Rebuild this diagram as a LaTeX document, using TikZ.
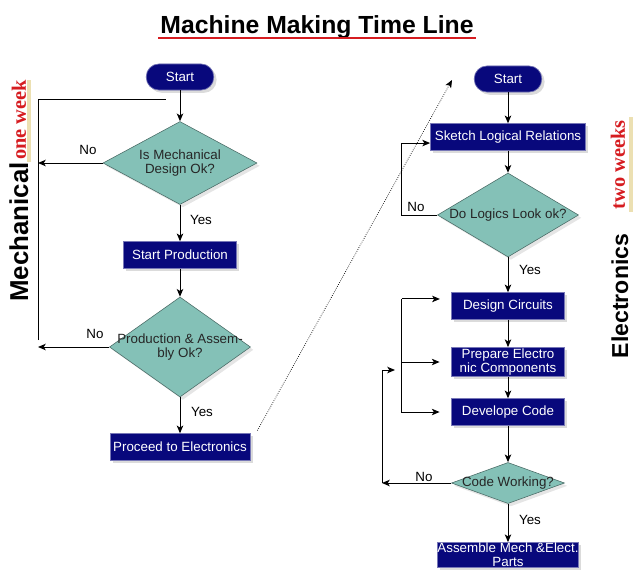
\documentclass[tikz,border=0pt]{standalone}
\usepackage{fontspec}
\setmainfont{Liberation Sans}
\newfontfamily\weekfont{Liberation Serif}
\usepackage{xcolor}
\usepackage{tikz}
\usetikzlibrary{positioning,arrows,arrows.meta}
\usetikzlibrary{shapes,shadows}
\definecolor{flownavy}{RGB}{8,8,124}
\definecolor{flowteal}{RGB}{132,193,183}
\definecolor{weekred}{RGB}{214,28,32}
\definecolor{weekbar}{RGB}{236,224,178}
\tikzset{
terminal/.style={rectangle, rounded corners=9pt, fill=flownavy, draw=flownavy!60!white, line width=0.5pt, text=white, minimum width=48pt, minimum height=18.5pt, inner sep=1pt, drop shadow={shadow xshift=2pt, shadow yshift=-2pt, fill=black!28}},
process/.style={rectangle, fill=flownavy, draw=flownavy!55!white, line width=0.5pt, text=white, align=center, minimum width=80.4pt, minimum height=19pt, inner sep=1pt, drop shadow={shadow xshift=2pt, shadow yshift=-2pt, fill=black!28}},
decision/.style={diamond, fill=flowteal, draw=flowteal!55!black, line width=0.4pt, inner sep=0pt, drop shadow={shadow xshift=2pt, shadow yshift=-2pt, fill=black!20}},
query/.style={align=center, text=black!85},
answer/.style={text=black},
week/.style={rotate=90, text=weekred, font=\weekfont\bfseries\fontsize{14.5}{15}\selectfont}
}

\begin{document}
\begin{tikzpicture}[x=0.025cm, y=-0.025cm, line width=0.7pt, >={Stealth[length=5.5pt,width=4.6pt,inset=1.4pt]}, font=\fontsize{9.5}{9.8}\selectfont]
\useasboundingbox (0,0) rectangle (639,574);
\node[anchor=base, font=\bfseries\fontsize{17.6}{18}\selectfont] (title) at (317,33) {Machine Making Time Line};
\draw[weekred, line width=2.1pt] (158,38) -- (476,38);

\node[terminal] (mstart) at (180,77) {Start};
\node[decision, minimum width=109.5pt, minimum height=59pt, label={[query]center:{Is Mechanical\\Design Ok?}}] (mok) at (180,163) {};
\node[process] (mprod) at (180,255) {Start Production};
\node[decision, minimum width=100.3pt, minimum height=71.1pt, label={[query]center:{Production \& Assem-\\bly Ok?}}] (mass) at (180,347) {};
\node[process, minimum width=99.6pt] (mnext) at (180,447) {Proceed to Electronics};
\coordinate (mno1) at (38,163);
\coordinate (mno2) at (38,347);
\coordinate (mloop) at (38,340);
\coordinate (mtop) at (166,99);
\draw[->] (mstart) -- (mok);
\draw[->] (mok) -- (mprod);
\draw[->] (mprod) -- (mass);
\draw[->] (mass) -- (mnext);
\draw[->] (mok.west) -- (mno1);
\draw[->] (mass.west) -- (mno2);
\draw (mloop) |- (mtop);
\node[answer] (mn1) at (88,150) {No};
\node[answer] (my1) at (201,220) {Yes};
\node[answer] (mn2) at (95,334) {No};
\node[answer] (my2) at (202,412) {Yes};

\coordinate (etop) at (452,80);
\draw[densely dotted, line width=0.5pt, ->] ([xshift=5pt,yshift=2pt]mnext.north east) -- (etop);

\node[terminal] (estart) at (508,79) {Start};
\node[process, minimum width=110.3pt] (esketch) at (508,137) {Sketch Logical Relations};
\node[decision, minimum width=100.3pt, minimum height=59.7pt, label={[query]center:Do Logics Look ok?}] (elogic) at (508,215) {};
\node[process] (ecirc) at (508,306) {Design Circuits};
\node[process, minimum height=20.6pt] (eparts) at (508,362) {Prepare Electro\\nic Components};
\node[process] (ecode) at (508,412) {Develope Code};
\node[decision, minimum width=80.4pt, minimum height=29.2pt, label={[query]center:Code Working?}] (ework) at (508,483) {};
\node[process, minimum width=99.6pt, minimum height=17.8pt, inner sep=0pt] (emerge) at (508,555) {Assemble Mech \&Elect.\\Parts};
\draw[->] (estart) -- (esketch);
\draw[->] (esketch) -- (elogic);
\draw[->] (elogic) -- (ecirc);
\draw[->] (ecirc) -- (eparts);
\draw[->] (eparts) -- (ecode);
\draw[->] (ecode) -- (ework);
\draw[->] (ework) -- (emerge);
\draw[->] (elogic.west) -- ++(-36,0) |- ([yshift=-4.3pt]esketch.west);
\coordinate (ebrk) at ([shift={(-35pt,5pt)}]ecirc.west);
\draw[->] (ebrk) -- ++(27pt,0);
\draw[->] (ebrk) |- ([xshift=-8.2pt]eparts.west);
\draw[->] (ebrk) |- ([xshift=-8.2pt]ecode.west);
\coordinate (eno) at (382,483);
\draw[->] (ework.west) -- (eno);
\draw[->] (eno) -- ++(0,-113) -- ++(13,0);
\node[answer] (en1) at (416,207) {No};
\node[answer] (ey1) at (530,270) {Yes};
\node[answer] (en2) at (424,477) {No};
\node[answer] (ey2) at (530,520) {Yes};

\node[rotate=90, font=\bfseries\fontsize{18.4}{19}\selectfont] (mlabel) at (19,232) {Mechanical};
\node[week] (mweek) at (19,120) {one week};
\draw[weekbar, line width=2.5pt] (29,80) -- (29,162);
\node[rotate=90, font=\bfseries\fontsize{16.4}{17}\selectfont] (elabel) at (620,296) {Electronics};
\node[week] (eweek) at (618,165) {two weeks};
\draw[weekbar, line width=2.5pt] (631,117) -- (631,212);
\end{tikzpicture}
\end{document}
